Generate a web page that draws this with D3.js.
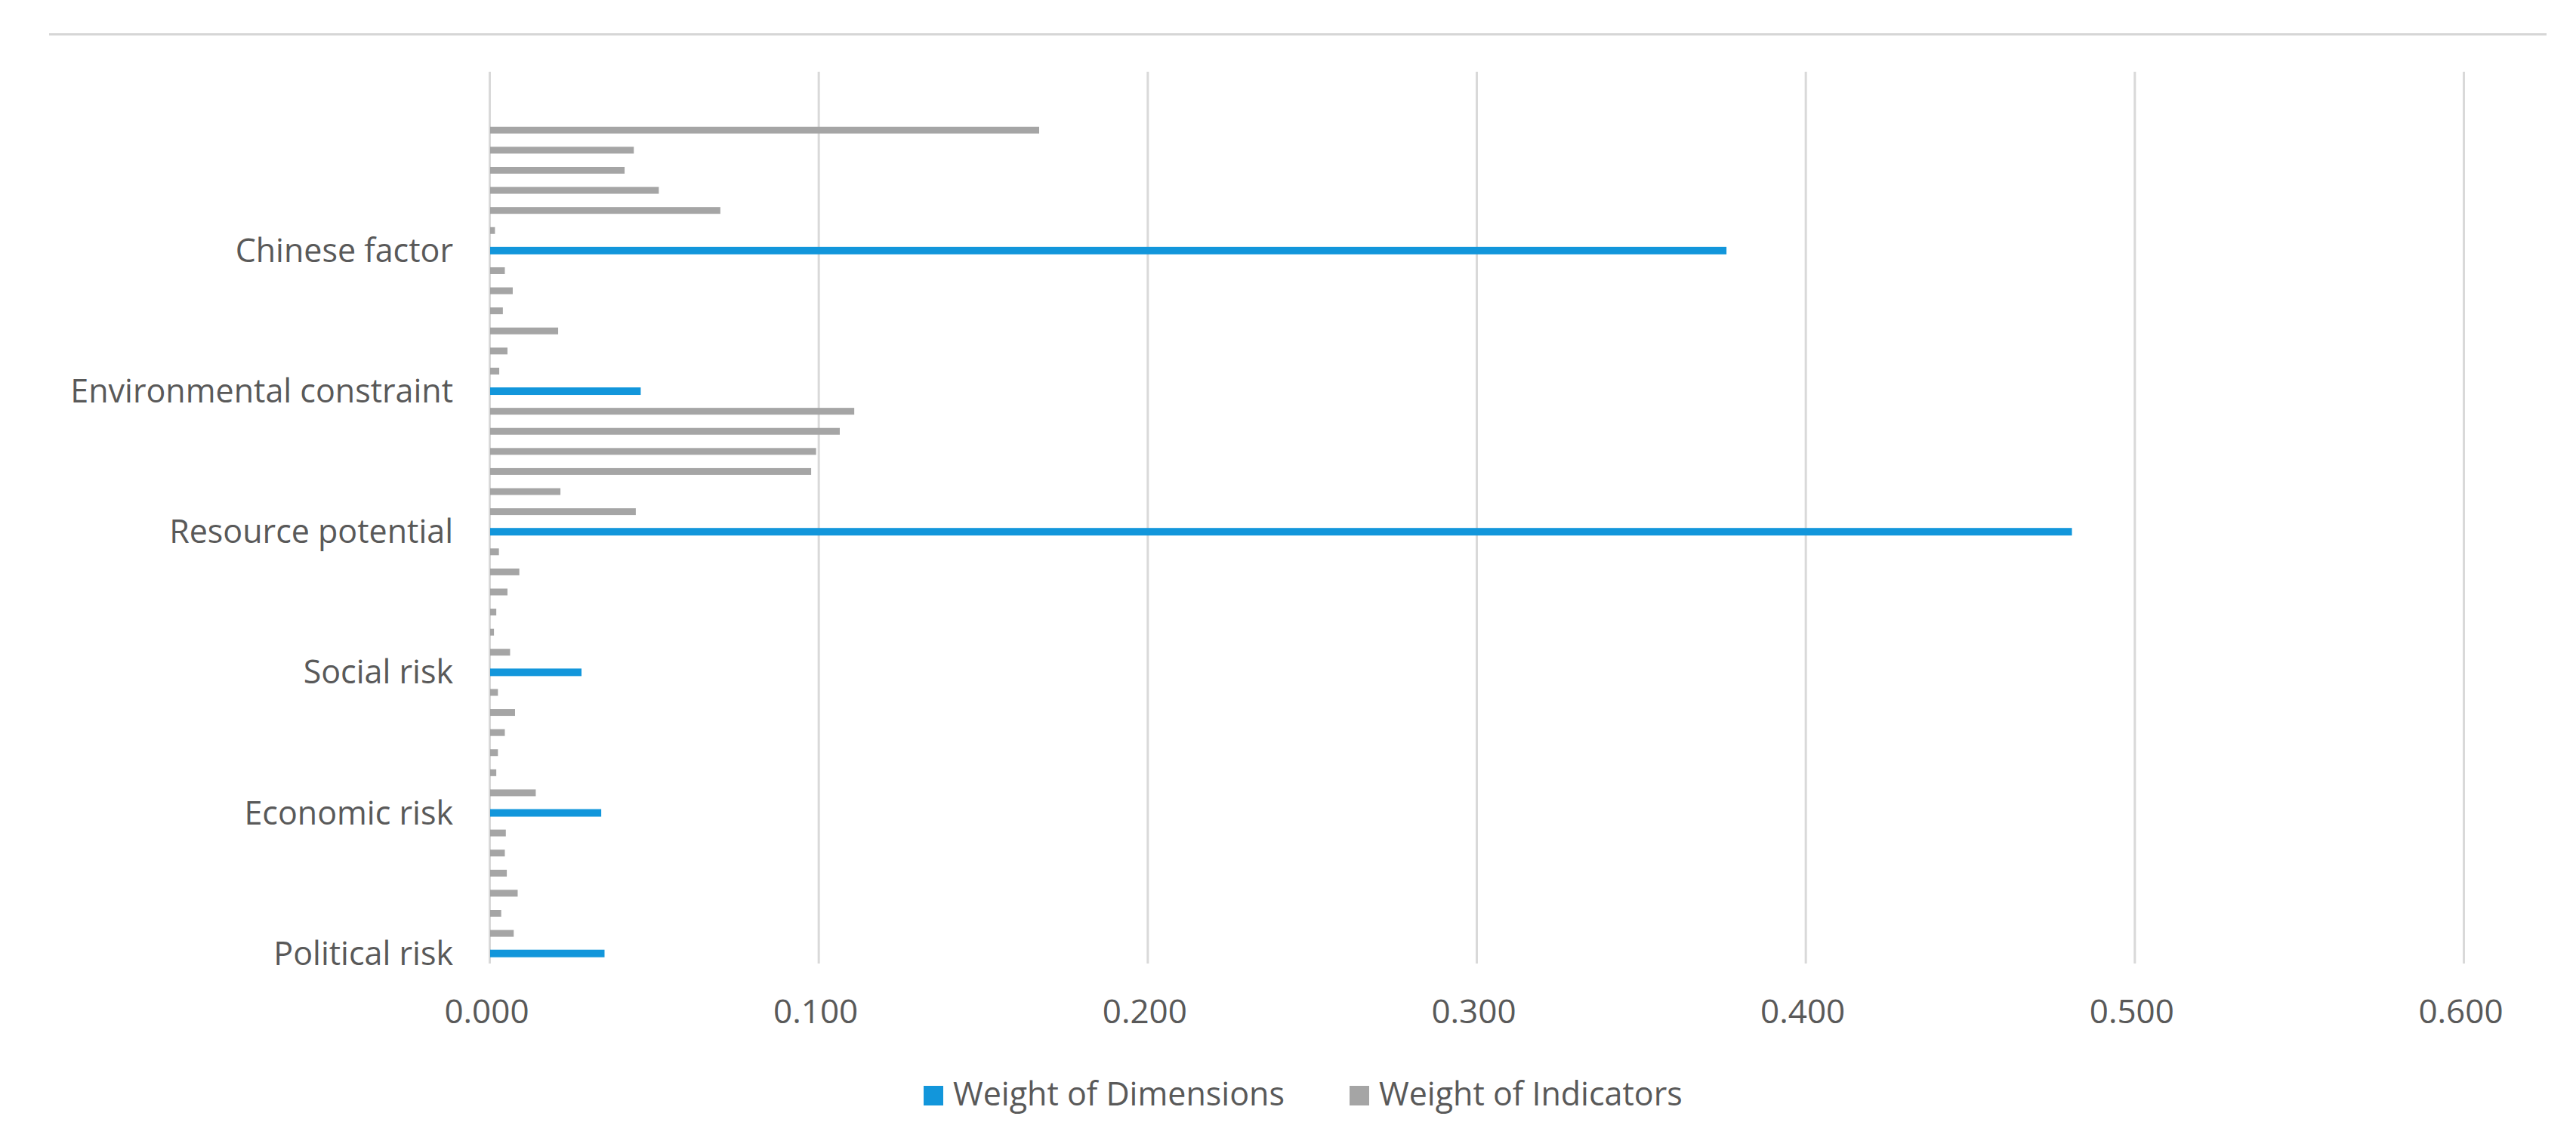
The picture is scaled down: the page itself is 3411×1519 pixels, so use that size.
<!DOCTYPE html>
<html>
<head>
<meta charset="utf-8">
<script src="https://cdn.jsdelivr.net/npm/d3@7"></script>
<style>
  html, body { margin: 0; padding: 0; background: #ffffff; }
  svg { display: block; }
  text { font-family: "Open Sans", "DejaVu Sans", sans-serif; fill: #595959; }
</style>
</head>
<body>
<svg id="chart" width="3411" height="1519"></svg>
<script>
// ---- Data (bottom-to-top order, as in the chart) ----
const dimensions = ["Political risk", "Economic risk", "Social risk", "Resource potential", "Environmental constraint", "Chinese factor"];
const dimensionWeights = [0.035, 0.034, 0.028, 0.481, 0.046, 0.376];
// six indicators drawn above each dimension bar (listed bottom to top)
const politicalIndicators = [0.0074, 0.0036, 0.0086, 0.0053, 0.0047, 0.0050];
const economicIndicators = [0.0141, 0.0021, 0.0026, 0.0047, 0.0078, 0.0026];
const socialIndicators = [0.0063, 0.0014, 0.0021, 0.0055, 0.0091, 0.0029];
const resourceIndicators = [0.0445, 0.0216, 0.0978, 0.0993, 0.1065, 0.1109];
const environmentalIndicators = [0.0030, 0.0055, 0.0209, 0.0041, 0.0071, 0.0047];
const chineseIndicators = [0.0017, 0.0702, 0.0515, 0.0411, 0.0439, 0.1671];
const xTicks = [0, 0.1, 0.2, 0.3, 0.4, 0.5, 0.6];
const seriesNames = ["Weight of Dimensions", "Weight of Indicators"];

const indicatorGroups = [politicalIndicators, economicIndicators, socialIndicators,
  resourceIndicators, environmentalIndicators, chineseIndicators];

// Build rows
const rows = [];
dimensions.forEach((name, i) => {
  rows.push({ id: "d" + i, type: "dim", label: name, value: dimensionWeights[i] });
  indicatorGroups[i].forEach((v, j) => {
    rows.push({ id: "d" + i + "i" + j, type: "ind", label: "", value: v });
  });
});

// ---- Layout ----
const svg = d3.select("#chart");
const plotLeft = 648, plotRight = 3262, plotTop = 95, plotBottom = 1276, bandTop = 159;
const colors = { dim: "#1296db", ind: "#a5a5a5" };

const x = d3.scaleLinear().domain([0, 0.6]).range([plotLeft, plotRight]);
const y = d3.scaleBand().domain(rows.map(r => r.id)).range([plotBottom, bandTop]);

// top separator line
svg.append("rect").attr("x", 65).attr("y", 44).attr("width", 3372 - 65).attr("height", 3).attr("fill", "#d6d6d6");

// x axis with gridlines
const xAxis = svg.append("g")
  .attr("transform", `translate(0,${plotBottom})`)
  .call(d3.axisBottom(x).tickValues(xTicks).tickFormat(d3.format(".3f"))
    .tickSize(-(plotBottom - plotTop)).tickPadding(48));
xAxis.select(".domain").remove();
xAxis.selectAll(".tick line").attr("stroke", "#d9d9d9").attr("stroke-width", 3);
xAxis.selectAll(".tick text").style("font-size", "44px").attr("fill", "#595959").attr("dx", "-4");

// bars
const barH = { dim: 10, ind: 9 };
svg.append("g").selectAll("rect").data(rows).join("rect")
  .attr("x", x(0) + 1)
  .attr("y", d => y(d.id) + y.bandwidth() / 2 - barH[d.type] / 2)
  .attr("width", d => x(d.value) - x(0) - 1)
  .attr("height", d => barH[d.type])
  .attr("fill", d => colors[d.type]);

// category labels (only dimension rows)
const yAxis = svg.append("g")
  .attr("transform", `translate(${plotLeft},0)`)
  .call(d3.axisLeft(y).tickValues(rows.filter(r => r.type === "dim").map(r => r.id))
    .tickFormat(id => rows.find(r => r.id === id).label).tickSize(0).tickPadding(48));
yAxis.select(".domain").remove();
yAxis.selectAll(".tick text").style("font-size", "43px").attr("fill", "#595959").attr("dy", "0.35em");

// legend
const legend = svg.append("g");
const legendItems = [
  { name: seriesNames[0], color: colors.dim, x: 1223 },
  { name: seriesNames[1], color: colors.ind, x: 1787 }
];
legendItems.forEach(it => {
  legend.append("rect").attr("x", it.x).attr("y", 1438).attr("width", 26).attr("height", 26).attr("fill", it.color);
  legend.append("text").attr("x", it.x + 39).attr("y", 1464).style("font-size", "43px").text(it.name);
});
</script>
</body>
</html>
